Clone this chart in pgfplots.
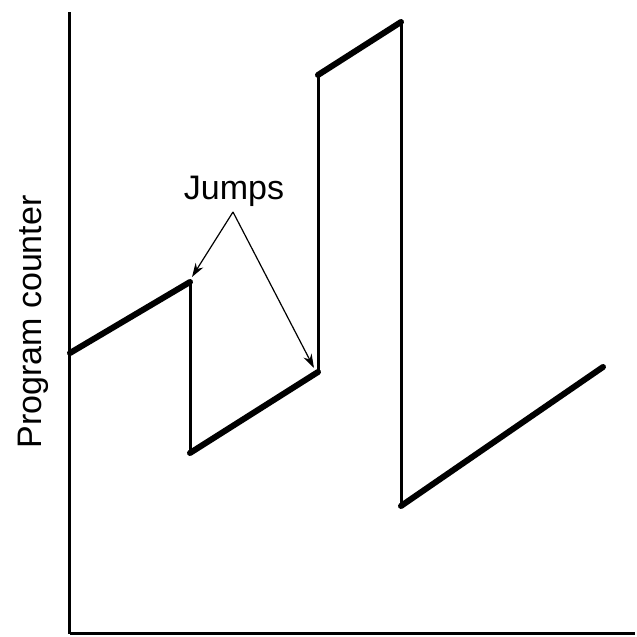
\documentclass[border=0pt]{standalone}
\usepackage{fontspec}
\setmainfont{Liberation Sans}
\usepackage{pgfplots}
\pgfplotsset{compat=1.18}
\usetikzlibrary{arrows.meta}

\begin{document}
\begin{tikzpicture}
\begin{axis}[
  x=1bp, y=1bp,
  xmin=70, xmax=635, ymin=3, ymax=625,
  axis x line=bottom, axis y line=left,
  axis line style={line width=3bp, -},
  ticks=none, clip=false,
]
% code segments (thick)
\addplot[line width=6bp, line cap=round] coordinates {(70,284) (190,355)};
\addplot[line width=6bp, line cap=round] coordinates {(190,184) (318,265)};
\addplot[line width=6bp, line cap=round] coordinates {(318,562) (401,615)};
\addplot[line width=6bp, line cap=round] coordinates {(401,131) (603,270)};
% jumps (thin verticals)
\addplot[line width=3bp] coordinates {(190,355) (190,184)};
\addplot[line width=3bp] coordinates {(318,265) (318,562)};
\addplot[line width=3bp] coordinates {(401,615) (401,131)};
% annotation
\node[font=\fontsize{34bp}{40bp}\selectfont, anchor=base] at (axis cs:234,437) {Jumps};
\draw[line width=1.2bp, -{Stealth[length=14bp,width=9bp]}] (axis cs:233,425) -- (axis cs:192,360);
\draw[line width=1.2bp, -{Stealth[length=14bp,width=9bp]}] (axis cs:233,425) -- (axis cs:314,269);
\node[font=\fontsize{34bp}{40bp}\selectfont, rotate=90, anchor=base] at (axis cs:42,315) {Program counter};
% page extent
\path (axis cs:0,0) (axis cs:635,637);
\end{axis}
\end{tikzpicture}
\end{document}
